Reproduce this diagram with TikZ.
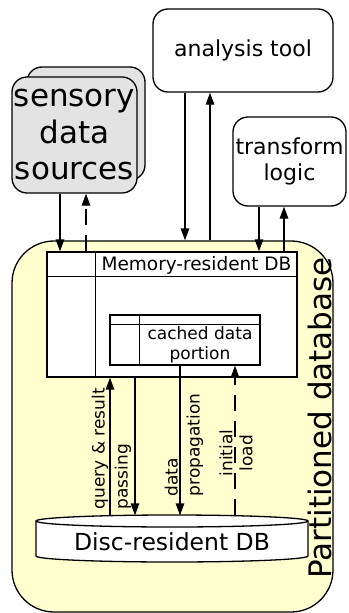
\documentclass[tikz,border=0pt]{standalone}
\usepackage{fontspec}
\setmainfont{DejaVu Sans}
\usetikzlibrary{arrows.meta,calc}
\definecolor{dbyellow}{RGB}{255,255,208}
\definecolor{srcgray}{RGB}{227,227,227}
\begin{document}
\begin{tikzpicture}[x=1pt,y=-1pt, line width=1.3pt,
  box/.style={draw, rounded corners=15pt, fill=white, inner sep=0pt},
  arr/.style={-{Triangle[length=12pt,width=8.5pt]}},
  darr/.style={arr, dash pattern=on 16pt off 10pt},
  lbl/.style={font=\fontsize{17}{23}\selectfont, inner sep=0pt, rotate=90}
]
\useasboundingbox (0,0) rectangle (348,613);

% column coordinates
\coordinate (c1) at (60,0);
\coordinate (c2) at (86,0);
\coordinate (c3) at (185,0);
\coordinate (c4) at (210,0);
\coordinate (c5) at (259,0);
\coordinate (c6) at (284,0);
\coordinate (c7) at (110,0);
\coordinate (c8) at (135,0);
\coordinate (c9) at (180,0);
\coordinate (c10) at (235,0);

% sensory data sources
\node[box, fill=srcgray, minimum width=118, minimum height=113] (sensb) at (86,123.5) {};
\node[box, fill=srcgray, minimum width=125, minimum height=116, align=center,
      font=\fontsize{31}{36.5}\selectfont] (sens) at (74.5,135) {sensory\\data\\sources};

% analysis tool
\node[box, minimum width=180, minimum height=83, font=\fontsize{22}{25}\selectfont] (ana) at (243,50.5) {analysis tool};

% transform logic
\node[box, minimum width=113, minimum height=89, align=center,
      font=\fontsize{22}{26}\selectfont] (tr) at (289.5,161.5) {transform\\logic};

% partitioned database container
\node[draw, fill=dbyellow, rounded corners=42pt, minimum width=321, minimum height=371, inner sep=0pt] (part) at (172.5,426.5) {};
\node[rotate=90, font=\fontsize{31}{32}\selectfont, inner sep=0pt] (ptext) at (320,418) {Partitioned database};

% memory-resident DB
\node[draw, fill=white, minimum width=250, minimum height=125, inner sep=0pt] (mem) at (172,314.5) {};
\draw ($(mem.north west)+(0,25)$) -- ($(mem.north east)+(0,25)$);
\draw ($(mem.north west)+(49,0)$) -- ($(mem.south west)+(49,0)$);
\node[font=\fontsize{18.5}{20}\selectfont, inner sep=0pt] (memlbl) at (196.5,265) {Memory-resident DB};

% cached data portion
\node[draw, fill=white, minimum width=150, minimum height=50, inner sep=0pt] (cache) at (185,340) {};
\draw ($(cache.north west)+(0,10)$) -- ($(cache.north east)+(0,10)$);
\draw ($(cache.north west)+(30,0)$) -- ($(cache.south west)+(30,0)$);
\node[align=center, font=\fontsize{17}{20.5}\selectfont, inner sep=0pt] (cachelbl) at (200,345) {cached data\\portion};

% disc-resident DB cylinder
\fill[white] (36,521) -- (36,556) arc[start angle=180, end angle=0, x radius=136, y radius=6] -- (308,521) -- cycle;
\draw (36,521) -- (36,556) arc[start angle=180, end angle=0, x radius=136, y radius=6] -- (308,521);
\draw[fill=white] (172,521) ellipse[x radius=136, y radius=6];
\node[minimum width=272, minimum height=46, inner sep=0pt] (disc) at (172,539) {};
\node[font=\fontsize{23.5}{26}\selectfont, inner sep=0pt] (disclbl) at (172,542) {Disc-resident DB};

% connectors
\draw[arr] (sens.south -| c1) -- (mem.north -| c1);
\draw[darr] (mem.north -| c2) -- (sens.south -| c2);
\draw[arr] (ana.south -| c3) -- (part.north -| c3);
\draw[arr] (part.north -| c4) -- (ana.south -| c4);
\draw[arr] (tr.south -| c5) -- (mem.north -| c5);
\draw[arr] (mem.north -| c6) -- (tr.south -| c6);
\draw[arr] (disc.north -| c7) -- (mem.south -| c7);
\draw[arr] (mem.south -| c8) -- (disc.north -| c8);
\draw[arr] (cache.south -| c9) -- (disc.north -| c9);
\draw[darr] (disc.north -| c10) -- (cache.south -| c10);

% connector labels
\node[lbl, anchor=west, align=left] (qlbl) at (111.5,510) {query \& result\\passing};
\node[lbl, anchor=west, align=left, font=\fontsize{17}{22}\selectfont] (dlbl) at (184,497) {data\\propagation};
\node[lbl, align=center, font=\fontsize{17}{20}\selectfont] (ilbl) at (236,453) {initial\\load};
\end{tikzpicture}
\end{document}
